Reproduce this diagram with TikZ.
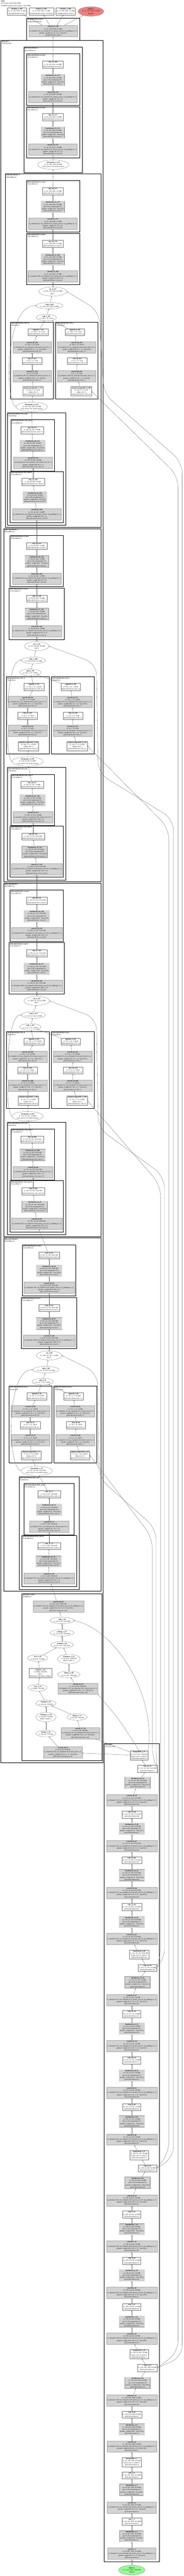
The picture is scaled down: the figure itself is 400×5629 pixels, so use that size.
\documentclass[tikz,border=0pt]{standalone}
\usepackage{fontspec}
\setmainfont{Liberation Serif}
\usetikzlibrary{arrows.meta,shapes.geometric}
\definecolor{parfill}{HTML}{D3D3D3}
\definecolor{outfill}{HTML}{F08080}
\definecolor{infill}{HTML}{98FB98}
\tikzset{
  plain/.style={draw=black!55, fill=white, align=center, inner xsep=1.6pt, inner ysep=1.3pt, line width=0.4pt},
  param/.style={plain, fill=parfill, draw=black!35},
  bnorm/.style={param, double=parfill, double distance=0.8pt, draw=black!45},
  func/.style={ellipse, draw=black!55, fill=white, align=center, inner xsep=0.5pt, inner ysep=1pt, line width=0.4pt},
  clus/.style={draw=black, line width=0.9pt},
  clab/.style={anchor=north west, align=left, inner xsep=1.2pt, inner ysep=1pt},
  arr/.style={draw=black!65, line width=0.35pt, -{Stealth[length=2.4pt,width=1.8pt]}},
}
\catcode`\_=12
% node kinds
\newcommand\kth[2]{in_channels=#1, out_channels=#2, kernel_size=(3, 3), padding=(1, 1)}
\newcommand\kon[2]{in_channels=#1, out_channels=#2, kernel_size=(1, 1)}
\newcommand\cnv[6]{\node[param] (#1) at (#2) {\textbf{#1}\\#3\\#4\\params: weight #5\\@#6};}
\newcommand\bnx[5]{\node[bnorm] (#1) at (#2) {\textbf{#1}\\#3\\eps=1e-05, momentum=0.1\\params: weight (#4,) · bias (#4,)\\@#5};}
\newcommand\act[4]{\node[plain] (#1) at (#2) {\textbf{#1}\\#3\\@#4};}
\newcommand\actx[5]{\node[plain] (#1) at (#2) {\textbf{#1}\\#3\\#4\\@#5};}
\newcommand\fnc[3]{\node[func] (#1) at (#2) {\textbf{#1}\\#3};}
\newcommand\clu[7]{\draw[clus] (#2,#3) rectangle (#4,#5); \node[clab] (#1) at (#2,#3) {\textbf{@#6}\\(#7)};}
\begin{document}
\begin{tikzpicture}[x=1pt, y=-1pt, every node/.style={font=\fontsize{3.7}{4.7}\selectfont}]
\useasboundingbox (0,0) rectangle (400,5629);
\node[anchor=north west, align=left, inner sep=1pt] (title) at (1,0.5) {\textbf{UNet}\\322 tensors total (186.6 MB)\\35338055 params (all trainable, 136.8 MB)};
\act{identity_1_182}{37,25}{(1, 21, 256, 256): 5.2 MB}{segmentation_head.1}
\act{identity_2_183}{90,25}{(1, 21, 256, 256): 5.2 MB}{segmentation_head.2.activation}
\act{identity_3_184}{143,25}{(1, 21, 256, 256): 5.2 MB}{segmentation_head.2}
\node[func, fill=outfill] (output_1) at (198,25) {\textbf{output_1}\\(1, 21, 256, 256): 5.2 MB\\@output};
\clu{c_seg}{58}{40}{174}{88}{segmentation_head}{SegmentationHead}
\cnv{conv2d_55_181}{116,68}{(1, 21, 256, 256): 5.2 MB}{\kth{16}{21}}{(21, 16, 3, 3) · bias (21,)}{segmentation_head.0}

% decoder
\clu{c_dec}{2}{88}{225}{3852}{decoder}{UnetDecoder}
% block 4
\clu{c_b4}{52}{103}{180}{378}{decoder.blocks.4}{DecoderBlock}
\clu{c_b4c2}{58}{118}{174}{230}{decoder.blocks.4.conv2}{Conv2dReLU}
\act{relu_42_180}{115,141}{(1, 16, 256, 256): 4.0 MB}{decoder.blocks.4.conv2.2}
\bnx{batchnorm_34_179}{115,175}{(1, 16, 256, 256): 4.0 MB}{16}{decoder.blocks.4.conv2.1}
\cnv{conv2d_54_178}{115,212}{(1, 16, 256, 256): 4.0 MB}{\kth{16}{16}}{(16, 16, 3, 3)}{decoder.blocks.4.conv2.0}
\clu{c_b4c1}{58}{233}{174}{345}{decoder.blocks.4.conv1}{Conv2dReLU}
\act{relu_41_177}{115,256}{(1, 16, 256, 256): 4.0 MB}{decoder.blocks.4.conv1.2}
\bnx{batchnorm_33_176}{115,290}{(1, 16, 256, 256): 4.0 MB}{16}{decoder.blocks.4.conv1.1}
\cnv{conv2d_53_175}{115,327}{(1, 16, 256, 256): 4.0 MB}{\kth{32}{16}}{(16, 32, 3, 3)}{decoder.blocks.4.conv1.0}
\fnc{interpolate_5_174}{116,360}{(1, 32, 256, 256): 8.0 MB\\scale_factor=2.0, mode=nearest}

% block 3
\clu{c_b3}{12}{380}{220}{1152}{decoder.blocks.3}{MSAMBlock}
\clu{c_b3c2}{58}{395}{174}{507}{decoder.blocks.3.conv2}{Conv2dReLU}
\act{relu_40_173}{115,418}{(1, 32, 128, 128): 2.0 MB}{decoder.blocks.3.conv2.2}
\bnx{batchnorm_32_172}{115,452}{(1, 32, 128, 128): 2.0 MB}{32}{decoder.blocks.3.conv2.1}
\cnv{conv2d_52_171}{115,489}{(1, 32, 128, 128): 2.0 MB}{\kth{32}{32}}{(32, 32, 3, 3)}{decoder.blocks.3.conv2.0}
\clu{c_b3c1}{58}{510}{174}{622}{decoder.blocks.3.conv1}{Conv2dReLU}
\act{relu_39_170}{115,533}{(1, 32, 128, 128): 2.0 MB}{decoder.blocks.3.conv1.2}
\bnx{batchnorm_31_169}{115,567}{(1, 32, 128, 128): 2.0 MB}{32}{decoder.blocks.3.conv1.1}
\cnv{conv2d_51_168}{115,604}{(1, 32, 128, 128): 2.0 MB}{\kth{256}{32}}{(32, 256, 3, 3)}{decoder.blocks.3.conv1.0}
\fnc{cat_4_167}{115,637}{(1, 256, 128, 128): 16.0 MB\\dim=1}
\fnc{mul_4_166}{108,668}{(1, 128, 128, 128): 8.0 MB}
\fnc{add_5_165}{101,694}{(1, 128, 1, 1): 512 B}
\clu{c_b3h}{23}{704}{116}{872}{decoder.blocks.3.SE_h}{Sequential}
\act{sigmoid_7_159}{83,726}{(1, 128, 1, 1): 512 B}{decoder.blocks.3.SE_h.4}
\cnv{conv2d_48_158}{70,759}{(1, 128, 1, 1): 512 B}{\kon{8}{128}}{(128, 8, 1, 1) · bias (128,)}{decoder.blocks.3.SE_h.3}
\act{relu_37_157}{70,789}{(1, 8, 1, 1): 32 B}{decoder.blocks.3.SE_h.2}
\cnv{conv2d_47_156}{70,822}{(1, 8, 1, 1): 32 B}{\kon{128}{8}}{(8, 128, 1, 1) · bias (8,)}{decoder.blocks.3.SE_h.1}
\actx{adaptiveavgpool2d_7_155}{72,855}{(1, 128, 1, 1): 512 B}{output_size=1}{decoder.blocks.3.SE_h.0}
\clu{c_b3l}{121}{704}{213}{872}{decoder.blocks.3.SE_l}{Sequential}
\act{sigmoid_8_164}{163,726}{(1, 128, 1, 1): 512 B}{decoder.blocks.3.SE_l.4}
\cnv{conv2d_50_163}{167,759}{(1, 128, 1, 1): 512 B}{\kon{8}{128}}{(128, 8, 1, 1) · bias (128,)}{decoder.blocks.3.SE_l.3}
\act{relu_38_162}{168,789}{(1, 8, 1, 1): 32 B}{decoder.blocks.3.SE_l.2}
\cnv{conv2d_49_161}{167,822}{(1, 8, 1, 1): 32 B}{\kon{128}{8}}{(8, 128, 1, 1) · bias (8,)}{decoder.blocks.3.SE_l.1}
\actx{adaptiveavgpool2d_8_160}{177,855}{(1, 128, 1, 1): 512 B}{output_size=1}{decoder.blocks.3.SE_l.0}
\fnc{interpolate_4_154}{69,889}{(1, 128, 128, 128): 8.0 MB\\scale_factor=2.0, mode=nearest}
\clu{c_b3f}{16}{902}{143}{1148}{decoder.blocks.3.fd_conv}{Sequential}
\clu{c_b3f1}{24}{917}{119}{1029}{decoder.blocks.3.fd_conv.1}{Conv2dReLU}
\act{relu_36_153}{70,940}{(1, 128, 64, 64): 2.0 MB}{decoder.blocks.3.fd_conv.1.2}
\bnx{batchnorm_30_152}{71,974}{(1, 128, 64, 64): 2.0 MB}{128}{decoder.blocks.3.fd_conv.1.1}
\cnv{conv2d_46_151}{72,1011}{(1, 128, 64, 64): 2.0 MB}{\kon{64}{128}}{(128, 64, 1, 1)}{decoder.blocks.3.fd_conv.1.0}
\clu{c_b3f0}{22}{1030}{138}{1142}{decoder.blocks.3.fd_conv.0}{Conv2dReLU}
\act{relu_35_150}{72,1053}{(1, 64, 64, 64): 1.0 MB}{decoder.blocks.3.fd_conv.0.2}
\bnx{batchnorm_29_149}{76,1087}{(1, 64, 64, 64): 1.0 MB}{64}{decoder.blocks.3.fd_conv.0.1}
\cnv{conv2d_45_148}{80,1124}{(1, 64, 64, 64): 1.0 MB}{\kth{64}{64}}{(64, 64, 3, 3)}{decoder.blocks.3.fd_conv.0.0}

% block 2
\clu{c_b2}{8}{1155}{220}{1927}{decoder.blocks.2}{MSAMBlock}
\clu{c_b2c2}{22}{1170}{138}{1282}{decoder.blocks.2.conv2}{Conv2dReLU}
\act{relu_34_147}{80,1193}{(1, 64, 64, 64): 1.0 MB}{decoder.blocks.2.conv2.2}
\bnx{batchnorm_28_146}{80,1227}{(1, 64, 64, 64): 1.0 MB}{64}{decoder.blocks.2.conv2.1}
\cnv{conv2d_44_145}{80,1264}{(1, 64, 64, 64): 1.0 MB}{\kth{64}{64}}{(64, 64, 3, 3)}{decoder.blocks.2.conv2.0}
\clu{c_b2c1}{20}{1285}{140}{1397}{decoder.blocks.2.conv1}{Conv2dReLU}
\act{relu_33_144}{80,1308}{(1, 64, 64, 64): 1.0 MB}{decoder.blocks.2.conv1.2}
\bnx{batchnorm_27_143}{80,1342}{(1, 64, 64, 64): 1.0 MB}{64}{decoder.blocks.2.conv1.1}
\cnv{conv2d_43_142}{80,1379}{(1, 64, 64, 64): 1.0 MB}{\kth{512}{64}}{(64, 512, 3, 3)}{decoder.blocks.2.conv1.0}
\fnc{cat_3_141}{80,1412}{(1, 512, 64, 64): 8.0 MB\\dim=1}
\fnc{mul_3_140}{73,1443}{(1, 256, 64, 64): 4.0 MB}
\fnc{add_4_139}{66,1469}{(1, 256, 1, 1): 1.0 KB}
\clu{c_b2h}{14}{1479}{107}{1647}{decoder.blocks.2.SE_h}{Sequential}
\act{sigmoid_5_133}{74,1501}{(1, 256, 1, 1): 1.0 KB}{decoder.blocks.2.SE_h.4}
\cnv{conv2d_40_132}{60,1534}{(1, 256, 1, 1): 1.0 KB}{\kon{16}{256}}{(256, 16, 1, 1) · bias (256,)}{decoder.blocks.2.SE_h.3}
\act{relu_31_131}{60,1564}{(1, 16, 1, 1): 64 B}{decoder.blocks.2.SE_h.2}
\cnv{conv2d_39_130}{60,1597}{(1, 16, 1, 1): 64 B}{\kon{256}{16}}{(16, 256, 1, 1) · bias (16,)}{decoder.blocks.2.SE_h.1}
\actx{adaptiveavgpool2d_5_129}{62,1630}{(1, 256, 1, 1): 1.0 KB}{output_size=1}{decoder.blocks.2.SE_h.0}
\clu{c_b2l}{112}{1479}{205}{1647}{decoder.blocks.2.SE_l}{Sequential}
\act{sigmoid_6_138}{154,1501}{(1, 256, 1, 1): 1.0 KB}{decoder.blocks.2.SE_l.4}
\cnv{conv2d_42_137}{158,1534}{(1, 256, 1, 1): 1.0 KB}{\kon{16}{256}}{(256, 16, 1, 1) · bias (256,)}{decoder.blocks.2.SE_l.3}
\act{relu_32_136}{159,1564}{(1, 16, 1, 1): 64 B}{decoder.blocks.2.SE_l.2}
\cnv{conv2d_41_135}{158,1597}{(1, 16, 1, 1): 64 B}{\kon{256}{16}}{(16, 256, 1, 1) · bias (16,)}{decoder.blocks.2.SE_l.1}
\actx{adaptiveavgpool2d_6_134}{168,1630}{(1, 256, 1, 1): 1.0 KB}{output_size=1}{decoder.blocks.2.SE_l.0}
\fnc{interpolate_3_128}{60,1664}{(1, 256, 64, 64): 4.0 MB\\scale_factor=2.0, mode=nearest}
\clu{c_b2f}{16}{1677}{143}{1923}{decoder.blocks.2.fd_conv}{Sequential}
\clu{c_b2f1}{24}{1692}{119}{1804}{decoder.blocks.2.fd_conv.1}{Conv2dReLU}
\act{relu_30_127}{70,1715}{(1, 256, 32, 32): 1.0 MB}{decoder.blocks.2.fd_conv.1.2}
\bnx{batchnorm_26_126}{71,1749}{(1, 256, 32, 32): 1.0 MB}{256}{decoder.blocks.2.fd_conv.1.1}
\cnv{conv2d_38_125}{72,1786}{(1, 256, 32, 32): 1.0 MB}{\kon{128}{256}}{(256, 128, 1, 1)}{decoder.blocks.2.fd_conv.1.0}
\clu{c_b2f0}{22}{1805}{138}{1917}{decoder.blocks.2.fd_conv.0}{Conv2dReLU}
\act{relu_29_124}{72,1828}{(1, 128, 32, 32): 512.0 KB}{decoder.blocks.2.fd_conv.0.2}
\bnx{batchnorm_25_123}{76,1862}{(1, 128, 32, 32): 512.0 KB}{128}{decoder.blocks.2.fd_conv.0.1}
\cnv{conv2d_37_122}{80,1899}{(1, 128, 32, 32): 512.0 KB}{\kth{128}{128}}{(128, 128, 3, 3)}{decoder.blocks.2.fd_conv.0.0}

% block 1
\clu{c_b1}{8}{1930}{220}{2702}{decoder.blocks.1}{MSAMBlock}
\clu{c_b1c2}{22}{1945}{138}{2057}{decoder.blocks.1.conv2}{Conv2dReLU}
\act{relu_28_121}{80,1968}{(1, 128, 32, 32): 512.0 KB}{decoder.blocks.1.conv2.2}
\bnx{batchnorm_24_120}{80,2002}{(1, 128, 32, 32): 512.0 KB}{128}{decoder.blocks.1.conv2.1}
\cnv{conv2d_36_119}{80,2039}{(1, 128, 32, 32): 512.0 KB}{\kth{128}{128}}{(128, 128, 3, 3)}{decoder.blocks.1.conv2.0}
\clu{c_b1c1}{20}{2060}{140}{2172}{decoder.blocks.1.conv1}{Conv2dReLU}
\act{relu_27_118}{80,2083}{(1, 128, 32, 32): 512.0 KB}{decoder.blocks.1.conv1.2}
\bnx{batchnorm_23_117}{80,2117}{(1, 128, 32, 32): 512.0 KB}{128}{decoder.blocks.1.conv1.1}
\cnv{conv2d_35_116}{80,2154}{(1, 128, 32, 32): 512.0 KB}{\kth{1024}{128}}{(128, 1024, 3, 3)}{decoder.blocks.1.conv1.0}
\fnc{cat_2_115}{80,2187}{(1, 1024, 32, 32): 4.0 MB\\dim=1}
\fnc{mul_2_114}{73,2218}{(1, 512, 32, 32): 2.0 MB}
\fnc{add_3_113}{66,2244}{(1, 512, 1, 1): 2.0 KB}
\clu{c_b1h}{14}{2254}{107}{2422}{decoder.blocks.1.SE_h}{Sequential}
\act{sigmoid_3_107}{74,2276}{(1, 512, 1, 1): 2.0 KB}{decoder.blocks.1.SE_h.4}
\cnv{conv2d_32_106}{60,2309}{(1, 512, 1, 1): 2.0 KB}{\kon{32}{512}}{(512, 32, 1, 1) · bias (512,)}{decoder.blocks.1.SE_h.3}
\act{relu_25_105}{60,2339}{(1, 32, 1, 1): 128 B}{decoder.blocks.1.SE_h.2}
\cnv{conv2d_31_104}{60,2372}{(1, 32, 1, 1): 128 B}{\kon{512}{32}}{(32, 512, 1, 1) · bias (32,)}{decoder.blocks.1.SE_h.1}
\actx{adaptiveavgpool2d_3_103}{62,2405}{(1, 512, 1, 1): 2.0 KB}{output_size=1}{decoder.blocks.1.SE_h.0}
\clu{c_b1l}{112}{2254}{205}{2422}{decoder.blocks.1.SE_l}{Sequential}
\act{sigmoid_4_112}{154,2276}{(1, 512, 1, 1): 2.0 KB}{decoder.blocks.1.SE_l.4}
\cnv{conv2d_34_111}{158,2309}{(1, 512, 1, 1): 2.0 KB}{\kon{32}{512}}{(512, 32, 1, 1) · bias (512,)}{decoder.blocks.1.SE_l.3}
\act{relu_26_110}{159,2339}{(1, 32, 1, 1): 128 B}{decoder.blocks.1.SE_l.2}
\cnv{conv2d_33_109}{158,2372}{(1, 32, 1, 1): 128 B}{\kon{512}{32}}{(32, 512, 1, 1) · bias (32,)}{decoder.blocks.1.SE_l.1}
\actx{adaptiveavgpool2d_4_108}{168,2405}{(1, 512, 1, 1): 2.0 KB}{output_size=1}{decoder.blocks.1.SE_l.0}
\fnc{interpolate_2_102}{60,2439}{(1, 512, 32, 32): 2.0 MB\\scale_factor=2.0, mode=nearest}
\clu{c_b1f}{16}{2452}{143}{2698}{decoder.blocks.1.fd_conv}{Sequential}
\clu{c_b1f1}{24}{2467}{119}{2579}{decoder.blocks.1.fd_conv.1}{Conv2dReLU}
\act{relu_24_101}{70,2490}{(1, 512, 16, 16): 512.0 KB}{decoder.blocks.1.fd_conv.1.2}
\bnx{batchnorm_22_100}{71,2524}{(1, 512, 16, 16): 512.0 KB}{512}{decoder.blocks.1.fd_conv.1.1}
\cnv{conv2d_30_99}{72,2561}{(1, 512, 16, 16): 512.0 KB}{\kon{256}{512}}{(512, 256, 1, 1)}{decoder.blocks.1.fd_conv.1.0}
\clu{c_b1f0}{22}{2580}{138}{2692}{decoder.blocks.1.fd_conv.0}{Conv2dReLU}
\act{relu_23_98}{72,2603}{(1, 256, 16, 16): 256.0 KB}{decoder.blocks.1.fd_conv.0.2}
\bnx{batchnorm_21_97}{76,2637}{(1, 256, 16, 16): 256.0 KB}{256}{decoder.blocks.1.fd_conv.0.1}
\cnv{conv2d_29_96}{80,2674}{(1, 256, 16, 16): 256.0 KB}{\kth{256}{256}}{(256, 256, 3, 3)}{decoder.blocks.1.fd_conv.0.0}

% block 0
\clu{c_b0}{8}{2705}{220}{3477}{decoder.blocks.0}{MSAMBlock}
\clu{c_b0c2}{49}{2720}{165}{2832}{decoder.blocks.0.conv2}{Conv2dReLU}
\act{relu_22_95}{107,2743}{(1, 256, 16, 16): 256.0 KB}{decoder.blocks.0.conv2.2}
\bnx{batchnorm_20_94}{107,2777}{(1, 256, 16, 16): 256.0 KB}{256}{decoder.blocks.0.conv2.1}
\cnv{conv2d_28_93}{107,2814}{(1, 256, 16, 16): 256.0 KB}{\kth{256}{256}}{(256, 256, 3, 3)}{decoder.blocks.0.conv2.0}
\clu{c_b0c1}{47}{2835}{167}{2947}{decoder.blocks.0.conv1}{Conv2dReLU}
\act{relu_21_92}{107,2858}{(1, 256, 16, 16): 256.0 KB}{decoder.blocks.0.conv1.2}
\bnx{batchnorm_19_91}{107,2892}{(1, 256, 16, 16): 256.0 KB}{256}{decoder.blocks.0.conv1.1}
\cnv{conv2d_27_90}{107,2929}{(1, 256, 16, 16): 256.0 KB}{\kth{1024}{256}}{(256, 1024, 3, 3)}{decoder.blocks.0.conv1.0}
\fnc{cat_1_89}{107,2962}{(1, 1024, 16, 16): 1.0 MB\\dim=1}
\fnc{mul_1_88}{100,2993}{(1, 512, 16, 16): 512.0 KB}
\fnc{add_2_87}{93,3019}{(1, 512, 1, 1): 2.0 KB}
\clu{c_b0h}{20}{3029}{113}{3197}{decoder.blocks.0.SE_h}{Sequential}
\act{sigmoid_1_81}{80,3051}{(1, 512, 1, 1): 2.0 KB}{decoder.blocks.0.SE_h.4}
\cnv{conv2d_24_80}{66,3084}{(1, 512, 1, 1): 2.0 KB}{\kon{32}{512}}{(512, 32, 1, 1) · bias (512,)}{decoder.blocks.0.SE_h.3}
\act{relu_19_79}{66,3114}{(1, 32, 1, 1): 128 B}{decoder.blocks.0.SE_h.2}
\cnv{conv2d_23_78}{66,3147}{(1, 32, 1, 1): 128 B}{\kon{512}{32}}{(32, 512, 1, 1) · bias (32,)}{decoder.blocks.0.SE_h.1}
\actx{adaptiveavgpool2d_1_77}{68,3180}{(1, 512, 1, 1): 2.0 KB}{output_size=1}{decoder.blocks.0.SE_h.0}
\clu{c_b0l}{118}{3029}{211}{3197}{decoder.blocks.0.SE_l}{Sequential}
\act{sigmoid_2_86}{160,3051}{(1, 512, 1, 1): 2.0 KB}{decoder.blocks.0.SE_l.4}
\cnv{conv2d_26_85}{164,3084}{(1, 512, 1, 1): 2.0 KB}{\kon{32}{512}}{(512, 32, 1, 1) · bias (512,)}{decoder.blocks.0.SE_l.3}
\act{relu_20_84}{165,3114}{(1, 32, 1, 1): 128 B}{decoder.blocks.0.SE_l.2}
\cnv{conv2d_25_83}{164,3147}{(1, 32, 1, 1): 128 B}{\kon{512}{32}}{(32, 512, 1, 1) · bias (32,)}{decoder.blocks.0.SE_l.1}
\actx{adaptiveavgpool2d_2_82}{174,3180}{(1, 512, 1, 1): 2.0 KB}{output_size=1}{decoder.blocks.0.SE_l.0}
\fnc{interpolate_1_76}{80,3214}{(1, 512, 16, 16): 512.0 KB\\scale_factor=2.0, mode=nearest}
\clu{c_b0f}{42}{3227}{173}{3473}{decoder.blocks.0.fd_conv}{Sequential}
\clu{c_b0f1}{52}{3242}{162}{3354}{decoder.blocks.0.fd_conv.1}{Conv2dReLU}
\act{relu_18_75}{107,3265}{(1, 512, 8, 8): 128.0 KB}{decoder.blocks.0.fd_conv.1.2}
\bnx{batchnorm_18_74}{107,3299}{(1, 512, 8, 8): 128.0 KB}{512}{decoder.blocks.0.fd_conv.1.1}
\cnv{conv2d_22_73}{107,3336}{(1, 512, 8, 8): 128.0 KB}{\kon{512}{512}}{(512, 512, 1, 1)}{decoder.blocks.0.fd_conv.1.0}
\clu{c_b0f0}{48}{3355}{167}{3467}{decoder.blocks.0.fd_conv.0}{Conv2dReLU}
\act{relu_17_72}{107,3378}{(1, 512, 8, 8): 128.0 KB}{decoder.blocks.0.fd_conv.0.2}
\bnx{batchnorm_17_71}{106,3412}{(1, 512, 8, 8): 128.0 KB}{512}{decoder.blocks.0.fd_conv.0.1}
\cnv{conv2d_21_70}{107,3449}{(1, 512, 8, 8): 128.0 KB}{\kth{512}{512}}{(512, 512, 3, 3)}{decoder.blocks.0.fd_conv.0.0}

% center
\clu{c_cen}{48}{3482}{222}{3847}{decoder.center}{PAMBlock}
\cnv{conv2d_20_69}{127,3510}{(1, 512, 8, 8): 128.0 KB}{\kth{512}{512}}{(512, 512, 3, 3) · bias (512,)}{decoder.center.out_conv}
\fnc{add_1_68}{135,3541}{(1, 512, 8, 8): 128.0 KB}
\fnc{reshape_1_67}{135,3568}{(1, 512, 8, 8): 128.0 KB}
\fnc{matmul_2_66}{135,3594}{(1, 64, 512): 128.0 KB}
\fnc{view_2_65}{82,3623}{(1, 64, 64): 16.0 KB}
\fnc{transpose_2_61}{150,3625}{(1, 64, 512): 128.0 KB\\dim0=1, dim1=2}
\actx{softmax_1_64}{88,3656}{(1, 4096): 16.0 KB}{dim=1}{decoder.center.map_softmax}
\fnc{flatten_3_60}{150,3659}{(1, 512, 64): 128.0 KB}
\fnc{view_1_63}{82,3688}{(1, 4096): 16.0 KB}
\cnv{conv2d_19_59}{170,3690}{(1, 512, 8, 8): 128.0 KB}{\kon{512}{512}}{(512, 512, 1, 1) · bias (512,)}{decoder.center.value_conv}
\fnc{matmul_1_62}{100,3722}{(1, 64, 64): 16.0 KB}
\fnc{transpose_1_58}{100,3752}{(1, 64, 64): 16.0 KB\\dim0=1, dim1=2}
\fnc{flatten_2_57}{168,3752}{(1, 64, 64): 16.0 KB}
\cnv{conv2d_17_54}{175,3787}{(1, 64, 8, 8): 16.0 KB}{\kon{512}{64}}{(64, 512, 1, 1) · bias (64,)}{decoder.center.key_conv}
\fnc{flatten_1_56}{100,3788}{(1, 64, 64): 16.0 KB}
\cnv{conv2d_18_55}{137,3829}{(1, 64, 8, 8): 16.0 KB}{\kon{512}{64}}{(64, 512, 1, 1) · bias (64,)}{decoder.center.query_conv}

% encoder
\clu{c_enc}{227}{3810}{347}{5598}{encoder}{VGGEncoder}
\actx{maxpool2d_5_53}{303,3836}{(1, 512, 8, 8): 128.0 KB}{kernel_size=2, stride=2}{encoder.features.52}
\act{relu_16_52}{321,3865}{(1, 512, 16, 16): 512.0 KB}{encoder.features.51}
\bnx{batchnorm_16_51}{300,3896}{(1, 512, 16, 16): 512.0 KB}{512}{encoder.features.50}
\cnv{conv2d_16_50}{287,3934}{(1, 512, 16, 16): 512.0 KB}{\kth{512}{512}}{(512, 512, 3, 3) · bias (512,)}{encoder.features.49}
\act{relu_15_49}{287,3965}{(1, 512, 16, 16): 512.0 KB}{encoder.features.48}
\bnx{batchnorm_15_48}{287,3996}{(1, 512, 16, 16): 512.0 KB}{512}{encoder.features.47}
\cnv{conv2d_15_47}{287,4034}{(1, 512, 16, 16): 512.0 KB}{\kth{512}{512}}{(512, 512, 3, 3) · bias (512,)}{encoder.features.46}
\act{relu_14_46}{287,4065}{(1, 512, 16, 16): 512.0 KB}{encoder.features.45}
\bnx{batchnorm_14_45}{287,4098}{(1, 512, 16, 16): 512.0 KB}{512}{encoder.features.44}
\cnv{conv2d_14_44}{287,4136}{(1, 512, 16, 16): 512.0 KB}{\kth{512}{512}}{(512, 512, 3, 3) · bias (512,)}{encoder.features.43}
\act{relu_13_43}{287,4167}{(1, 512, 16, 16): 512.0 KB}{encoder.features.42}
\bnx{batchnorm_13_42}{287,4200}{(1, 512, 16, 16): 512.0 KB}{512}{encoder.features.41}
\cnv{conv2d_13_41}{287,4237}{(1, 512, 16, 16): 512.0 KB}{\kth{512}{512}}{(512, 512, 3, 3) · bias (512,)}{encoder.features.40}
\actx{maxpool2d_4_40}{303,4271}{(1, 512, 16, 16): 512.0 KB}{kernel_size=2, stride=2}{encoder.features.39}
\act{relu_12_39}{321,4300}{(1, 512, 32, 32): 2.0 MB}{encoder.features.38}
\bnx{batchnorm_12_38}{300,4332}{(1, 512, 32, 32): 2.0 MB}{512}{encoder.features.37}
\cnv{conv2d_12_37}{287,4370}{(1, 512, 32, 32): 2.0 MB}{\kth{512}{512}}{(512, 512, 3, 3) · bias (512,)}{encoder.features.36}
\act{relu_11_36}{287,4401}{(1, 512, 32, 32): 2.0 MB}{encoder.features.35}
\bnx{batchnorm_11_35}{287,4433}{(1, 512, 32, 32): 2.0 MB}{512}{encoder.features.34}
\cnv{conv2d_11_34}{287,4471}{(1, 512, 32, 32): 2.0 MB}{\kth{512}{512}}{(512, 512, 3, 3) · bias (512,)}{encoder.features.33}
\act{relu_10_33}{287,4502}{(1, 512, 32, 32): 2.0 MB}{encoder.features.32}
\bnx{batchnorm_10_32}{287,4535}{(1, 512, 32, 32): 2.0 MB}{512}{encoder.features.31}
\cnv{conv2d_10_31}{287,4573}{(1, 512, 32, 32): 2.0 MB}{\kth{512}{512}}{(512, 512, 3, 3) · bias (512,)}{encoder.features.30}
\act{relu_9_30}{287,4604}{(1, 512, 32, 32): 2.0 MB}{encoder.features.29}
\bnx{batchnorm_9_29}{287,4636}{(1, 512, 32, 32): 2.0 MB}{512}{encoder.features.28}
\cnv{conv2d_9_28}{287,4675}{(1, 512, 32, 32): 2.0 MB}{\kth{256}{512}}{(512, 256, 3, 3) · bias (512,)}{encoder.features.27}
\actx{maxpool2d_3_27}{303,4709}{(1, 256, 32, 32): 1.0 MB}{kernel_size=2, stride=2}{encoder.features.26}
\act{relu_8_26}{321,4738}{(1, 256, 64, 64): 4.0 MB}{encoder.features.25}
\bnx{batchnorm_8_25}{300,4770}{(1, 256, 64, 64): 4.0 MB}{256}{encoder.features.24}
\cnv{conv2d_8_24}{287,4808}{(1, 256, 64, 64): 4.0 MB}{\kth{256}{256}}{(256, 256, 3, 3) · bias (256,)}{encoder.features.23}
\act{relu_7_23}{287,4839}{(1, 256, 64, 64): 4.0 MB}{encoder.features.22}
\bnx{batchnorm_7_22}{287,4871}{(1, 256, 64, 64): 4.0 MB}{256}{encoder.features.21}
\cnv{conv2d_7_21}{287,4909}{(1, 256, 64, 64): 4.0 MB}{\kth{256}{256}}{(256, 256, 3, 3) · bias (256,)}{encoder.features.20}
\act{relu_6_20}{287,4940}{(1, 256, 64, 64): 4.0 MB}{encoder.features.19}
\bnx{batchnorm_6_19}{287,4972}{(1, 256, 64, 64): 4.0 MB}{256}{encoder.features.18}
\cnv{conv2d_6_18}{287,5010}{(1, 256, 64, 64): 4.0 MB}{\kth{256}{256}}{(256, 256, 3, 3) · bias (256,)}{encoder.features.17}
\act{relu_5_17}{287,5041}{(1, 256, 64, 64): 4.0 MB}{encoder.features.16}
\bnx{batchnorm_5_16}{287,5073}{(1, 256, 64, 64): 4.0 MB}{256}{encoder.features.15}
\cnv{conv2d_5_15}{287,5110}{(1, 256, 64, 64): 4.0 MB}{\kth{128}{256}}{(256, 128, 3, 3) · bias (256,)}{encoder.features.14}
\actx{maxpool2d_2_14}{303,5144}{(1, 128, 64, 64): 2.0 MB}{kernel_size=2, stride=2}{encoder.features.13}
\act{relu_4_13}{321,5174}{(1, 128, 128, 128): 8.0 MB}{encoder.features.12}
\bnx{batchnorm_4_12}{300,5207}{(1, 128, 128, 128): 8.0 MB}{128}{encoder.features.11}
\cnv{conv2d_4_11}{287,5245}{(1, 128, 128, 128): 8.0 MB}{\kth{128}{128}}{(128, 128, 3, 3) · bias (128,)}{encoder.features.10}
\act{relu_3_10}{287,5276}{(1, 128, 128, 128): 8.0 MB}{encoder.features.9}
\bnx{batchnorm_3_9}{287,5309}{(1, 128, 128, 128): 8.0 MB}{128}{encoder.features.8}
\cnv{conv2d_3_8}{287,5346}{(1, 128, 128, 128): 8.0 MB}{\kth{64}{128}}{(128, 64, 3, 3) · bias (128,)}{encoder.features.7}
\actx{maxpool2d_1_7}{287,5380}{(1, 64, 128, 128): 4.0 MB}{kernel_size=2, stride=2}{encoder.features.6}
\act{relu_2_6}{287,5409}{(1, 64, 256, 256): 16.0 MB}{encoder.features.5}
\bnx{batchnorm_2_5}{287,5441}{(1, 64, 256, 256): 16.0 MB}{64}{encoder.features.4}
\cnv{conv2d_2_4}{287,5479}{(1, 64, 256, 256): 16.0 MB}{\kth{64}{64}}{(64, 64, 3, 3) · bias (64,)}{encoder.features.3}
\act{relu_1_3}{287,5510}{(1, 64, 256, 256): 16.0 MB}{encoder.features.2}
\bnx{batchnorm_1_2}{287,5542}{(1, 64, 256, 256): 16.0 MB}{64}{encoder.features.1}
\cnv{conv2d_1_1}{287,5580}{(1, 64, 256, 256): 16.0 MB}{\kth{3}{64}}{(64, 3, 3, 3) · bias (64,)}{encoder.features.0}
\node[func, fill=infill] (input_1) at (287,5616) {\textbf{input_1}\\(1, 3, 256, 256): 768.0 KB\\@input};

% edges
\foreach \a/\b in {input_1/conv2d_1_1, conv2d_1_1/batchnorm_1_2, batchnorm_1_2/relu_1_3, relu_1_3/conv2d_2_4,
  conv2d_2_4/batchnorm_2_5, batchnorm_2_5/relu_2_6, relu_2_6/maxpool2d_1_7, maxpool2d_1_7/conv2d_3_8,
  conv2d_3_8/batchnorm_3_9, batchnorm_3_9/relu_3_10, relu_3_10/conv2d_4_11, conv2d_4_11/batchnorm_4_12,
  batchnorm_4_12/relu_4_13, relu_4_13/maxpool2d_2_14, maxpool2d_2_14/conv2d_5_15, conv2d_5_15/batchnorm_5_16,
  batchnorm_5_16/relu_5_17, relu_5_17/conv2d_6_18, conv2d_6_18/batchnorm_6_19, batchnorm_6_19/relu_6_20,
  relu_6_20/conv2d_7_21, conv2d_7_21/batchnorm_7_22, batchnorm_7_22/relu_7_23, relu_7_23/conv2d_8_24,
  conv2d_8_24/batchnorm_8_25, batchnorm_8_25/relu_8_26, relu_8_26/maxpool2d_3_27, maxpool2d_3_27/conv2d_9_28,
  conv2d_9_28/batchnorm_9_29, batchnorm_9_29/relu_9_30, relu_9_30/conv2d_10_31, conv2d_10_31/batchnorm_10_32,
  batchnorm_10_32/relu_10_33, relu_10_33/conv2d_11_34, conv2d_11_34/batchnorm_11_35, batchnorm_11_35/relu_11_36,
  relu_11_36/conv2d_12_37, conv2d_12_37/batchnorm_12_38, batchnorm_12_38/relu_12_39, relu_12_39/maxpool2d_4_40,
  maxpool2d_4_40/conv2d_13_41, conv2d_13_41/batchnorm_13_42, batchnorm_13_42/relu_13_43, relu_13_43/conv2d_14_44,
  conv2d_14_44/batchnorm_14_45, batchnorm_14_45/relu_14_46, relu_14_46/conv2d_15_47, conv2d_15_47/batchnorm_15_48,
  batchnorm_15_48/relu_15_49, relu_15_49/conv2d_16_50, conv2d_16_50/batchnorm_16_51, batchnorm_16_51/relu_16_52,
  relu_16_52/maxpool2d_5_53}
  \draw[arr] (\a) -- (\b);
% center
\foreach \a/\b in {maxpool2d_5_53/conv2d_18_55, maxpool2d_5_53/conv2d_17_54,
  conv2d_18_55/flatten_1_56, flatten_1_56/transpose_1_58, transpose_1_58/matmul_1_62,
  conv2d_17_54/flatten_2_57, flatten_2_57/matmul_1_62, matmul_1_62/view_1_63, view_1_63/softmax_1_64,
  softmax_1_64/view_2_65, view_2_65/matmul_2_66, conv2d_19_59/flatten_3_60, flatten_3_60/transpose_2_61,
  transpose_2_61/matmul_2_66, matmul_2_66/reshape_1_67, reshape_1_67/add_1_68, add_1_68/conv2d_20_69,
  conv2d_20_69/conv2d_21_70}
  \draw[arr] (\a) -- (\b);
\draw[arr] (maxpool2d_5_53.north) .. controls (262,3760) .. (conv2d_19_59.south east);
\draw[arr] (maxpool2d_5_53.north east) .. controls (340,3700) and (250,3560) .. (add_1_68.east);
% decoder blocks
\foreach \a/\b in {
  conv2d_21_70/batchnorm_17_71, batchnorm_17_71/relu_17_72, relu_17_72/conv2d_22_73, conv2d_22_73/batchnorm_18_74,
  batchnorm_18_74/relu_18_75, relu_18_75/interpolate_1_76, interpolate_1_76/adaptiveavgpool2d_1_77,
  adaptiveavgpool2d_1_77/conv2d_23_78, conv2d_23_78/relu_19_79, relu_19_79/conv2d_24_80, conv2d_24_80/sigmoid_1_81,
  sigmoid_1_81/add_2_87, adaptiveavgpool2d_2_82/conv2d_25_83, conv2d_25_83/relu_20_84, relu_20_84/conv2d_26_85,
  conv2d_26_85/sigmoid_2_86, sigmoid_2_86/add_2_87, add_2_87/mul_1_88, mul_1_88/cat_1_89, cat_1_89/conv2d_27_90,
  conv2d_27_90/batchnorm_19_91, batchnorm_19_91/relu_21_92, relu_21_92/conv2d_28_93, conv2d_28_93/batchnorm_20_94,
  batchnorm_20_94/relu_22_95, relu_22_95/conv2d_29_96,
  conv2d_29_96/batchnorm_21_97, batchnorm_21_97/relu_23_98, relu_23_98/conv2d_30_99, conv2d_30_99/batchnorm_22_100,
  batchnorm_22_100/relu_24_101, relu_24_101/interpolate_2_102, interpolate_2_102/adaptiveavgpool2d_3_103,
  adaptiveavgpool2d_3_103/conv2d_31_104, conv2d_31_104/relu_25_105, relu_25_105/conv2d_32_106, conv2d_32_106/sigmoid_3_107,
  sigmoid_3_107/add_3_113, adaptiveavgpool2d_4_108/conv2d_33_109, conv2d_33_109/relu_26_110, relu_26_110/conv2d_34_111,
  conv2d_34_111/sigmoid_4_112, sigmoid_4_112/add_3_113, add_3_113/mul_2_114, mul_2_114/cat_2_115, cat_2_115/conv2d_35_116,
  conv2d_35_116/batchnorm_23_117, batchnorm_23_117/relu_27_118, relu_27_118/conv2d_36_119, conv2d_36_119/batchnorm_24_120,
  batchnorm_24_120/relu_28_121, relu_28_121/conv2d_37_122,
  conv2d_37_122/batchnorm_25_123, batchnorm_25_123/relu_29_124, relu_29_124/conv2d_38_125, conv2d_38_125/batchnorm_26_126,
  batchnorm_26_126/relu_30_127, relu_30_127/interpolate_3_128, interpolate_3_128/adaptiveavgpool2d_5_129,
  adaptiveavgpool2d_5_129/conv2d_39_130, conv2d_39_130/relu_31_131, relu_31_131/conv2d_40_132, conv2d_40_132/sigmoid_5_133,
  sigmoid_5_133/add_4_139, adaptiveavgpool2d_6_134/conv2d_41_135, conv2d_41_135/relu_32_136, relu_32_136/conv2d_42_137,
  conv2d_42_137/sigmoid_6_138, sigmoid_6_138/add_4_139, add_4_139/mul_3_140, mul_3_140/cat_3_141, cat_3_141/conv2d_43_142,
  conv2d_43_142/batchnorm_27_143, batchnorm_27_143/relu_33_144, relu_33_144/conv2d_44_145, conv2d_44_145/batchnorm_28_146,
  batchnorm_28_146/relu_34_147, relu_34_147/conv2d_45_148,
  conv2d_45_148/batchnorm_29_149, batchnorm_29_149/relu_35_150, relu_35_150/conv2d_46_151, conv2d_46_151/batchnorm_30_152,
  batchnorm_30_152/relu_36_153, relu_36_153/interpolate_4_154, interpolate_4_154/adaptiveavgpool2d_7_155,
  adaptiveavgpool2d_7_155/conv2d_47_156, conv2d_47_156/relu_37_157, relu_37_157/conv2d_48_158, conv2d_48_158/sigmoid_7_159,
  sigmoid_7_159/add_5_165, adaptiveavgpool2d_8_160/conv2d_49_161, conv2d_49_161/relu_38_162, relu_38_162/conv2d_50_163,
  conv2d_50_163/sigmoid_8_164, sigmoid_8_164/add_5_165, add_5_165/mul_4_166, mul_4_166/cat_4_167, cat_4_167/conv2d_51_168,
  conv2d_51_168/batchnorm_31_169, batchnorm_31_169/relu_39_170, relu_39_170/conv2d_52_171, conv2d_52_171/batchnorm_32_172,
  batchnorm_32_172/relu_40_173, relu_40_173/interpolate_5_174,
  interpolate_5_174/conv2d_53_175, conv2d_53_175/batchnorm_33_176, batchnorm_33_176/relu_41_177, relu_41_177/conv2d_54_178,
  conv2d_54_178/batchnorm_34_179, batchnorm_34_179/relu_42_180, relu_42_180/conv2d_55_181,
  conv2d_55_181/identity_1_182, conv2d_55_181/identity_2_183, conv2d_55_181/identity_3_184, conv2d_55_181/output_1}
  \draw[arr] (\a) -- (\b);
% interpolate to mul, round the left side
\draw[arr] (interpolate_1_76.west) .. controls (14,3205) and (14,2990) .. (mul_1_88.west);
\draw[arr] (interpolate_2_102.west) .. controls (10,2430) and (10,2215) .. (mul_2_114.west);
\draw[arr] (interpolate_3_128.west) .. controls (10,1655) and (10,1440) .. (mul_3_140.west);
\draw[arr] (interpolate_4_154.west) .. controls (10,880) and (10,665) .. (mul_4_166.west);
% skips from the encoder
\draw[arr, rounded corners=25pt] (relu_4_13.east) -- (397,5150) -- (397,1010) -- (226,860) -- (216,680) -- (cat_4_167.east);
\draw[arr, rounded corners=25pt] (relu_4_13.east) -- (388,5140) -- (388,1040) -- (adaptiveavgpool2d_8_160.east);
\draw[arr, rounded corners=25pt] (relu_8_26.east) -- (378,4715) -- (378,1790) -- (214,1690) -- (210,1450) -- (cat_3_141.east);
\draw[arr, rounded corners=25pt] (relu_8_26.east) -- (368,4705) -- (368,1810) -- (adaptiveavgpool2d_6_134.east);
\draw[arr, rounded corners=25pt] (relu_12_39.east) -- (358,4285) -- (358,2570) -- (214,2465) -- (210,2225) -- (cat_2_115.east);
\draw[arr, rounded corners=25pt] (relu_12_39.east) -- (350,4280) -- (350,2590) -- (adaptiveavgpool2d_4_108.east);
\draw[arr, rounded corners=25pt] (relu_16_52.east) -- (340,3850) -- (340,3340) -- (216,3230) -- (212,3000) -- (cat_1_89.east);
\draw[arr, rounded corners=25pt] (relu_16_52.east) -- (332,3845) -- (332,3360) -- (adaptiveavgpool2d_2_82.east);
\end{tikzpicture}
\end{document}
